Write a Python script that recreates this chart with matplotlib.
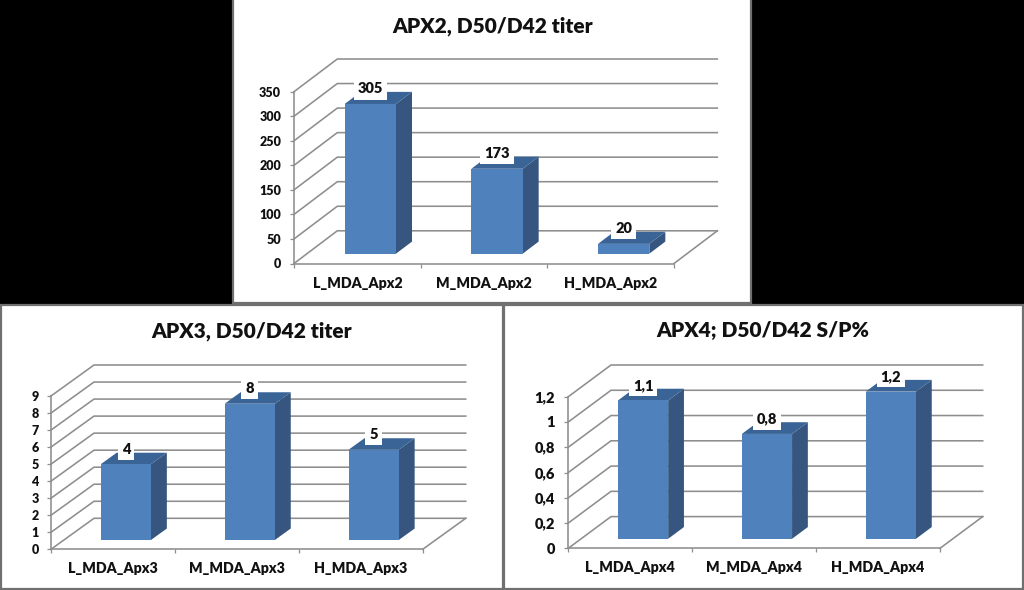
import matplotlib
matplotlib.use("Agg")
import matplotlib.pyplot as plt
from matplotlib.patches import Polygon, Rectangle

plt.rcParams['font.family'] = ['Lato', 'DejaVu Sans']
plt.rcParams['font.weight'] = 'heavy'

FIG_W, FIG_H = 1024, 590

# --- data ---
apx2_categories = ["L_MDA_Apx2", "M_MDA_Apx2", "H_MDA_Apx2"]
apx2_values = [305, 173, 20]
apx2_labels = ["305", "173", "20"]
apx2_ticks = [0, 50, 100, 150, 200, 250, 300, 350]
apx2_ticklabels = ["0", "50", "100", "150", "200", "250", "300", "350"]

apx3_categories = ["L_MDA_Apx3", "M_MDA_Apx3", "H_MDA_Apx3"]
apx3_values = [4.45, 8.0, 5.3]
apx3_labels = ["4", "8", "5"]
apx3_ticks = [0, 1, 2, 3, 4, 5, 6, 7, 8, 9]
apx3_ticklabels = ["0", "1", "2", "3", "4", "5", "6", "7", "8", "9"]

apx4_categories = ["L_MDA_Apx4", "M_MDA_Apx4", "H_MDA_Apx4"]
apx4_values = [1.095, 0.83, 1.165]
apx4_labels = ["1,1", "0,8", "1,2"]
apx4_ticks = [0, 0.2, 0.4, 0.6, 0.8, 1.0, 1.2]
apx4_ticklabels = ["0", "0,2", "0,4", "0,6", "0,8", "1", "1,2"]

FRONT = "#4F81BD"
SIDE = "#36567F"
TOP = "#3A6396"
GRID = "#8E8E8E"


def px_rect(fig, x0, y0, x1, y1, **kw):
    fig.add_artist(Rectangle((x0 / FIG_W, 1 - y1 / FIG_H), (x1 - x0) / FIG_W,
                             (y1 - y0) / FIG_H, transform=fig.transFigure, **kw))


def chart(fig, panel, title, title_xy, box, depth, cats, vals, labels, ticks, ticklabels,
          tick_fs, cat_y_gap, tick_pad_px):
    px_rect(fig, *panel, facecolor="white", edgecolor="#707070", linewidth=1.6, zorder=-5)
    fig.text(title_xy[0] / FIG_W, 1 - title_xy[1] / FIG_H, title, ha="center", va="center",
             fontsize=15, color="#111111")

    x0, y0, x1, y1 = box          # front axis box: left, top, right, bottom (px)
    W, H = x1 - x0, y1 - y0
    ax = fig.add_axes([x0 / FIG_W, 1 - y1 / FIG_H, W / FIG_W, H / FIG_H])
    ax.patch.set_visible(False)
    ymax = ticks[-1]
    n = len(cats)
    ax.set_xlim(0, n)
    ax.set_ylim(0, ymax)

    dx_unit = depth[0] / (W / n)
    dy_unit = depth[1] / (H / ymax)

    def P(x, v, d):
        return (x + d * dx_unit, v + d * dy_unit)

    # walls and floor
    for t in ticks:
        a, b, c = P(0, t, 0), P(0, t, 1), P(n, t, 1)
        ax.plot([a[0], b[0], c[0]], [a[1], b[1], c[1]], color=GRID, lw=1.15,
                clip_on=False, zorder=1, solid_joinstyle="miter")
    a, b = P(n, 0, 0), P(n, 0, 1)
    ax.plot([a[0], b[0]], [a[1], b[1]], color=GRID, lw=1.15, clip_on=False, zorder=1)

    # 3-D columns
    bw, d0, d1 = 0.405, 0.30, 0.67
    for i, (v, lab) in enumerate(zip(vals, labels)):
        l, r = i + 0.5 - bw / 2, i + 0.5 + bw / 2
        ax.add_patch(Polygon([P(r, 0, d0), P(r, 0, d1), P(r, v, d1), P(r, v, d0)],
                             closed=True, fc=SIDE, ec="none", clip_on=False, zorder=3))
        ax.add_patch(Polygon([P(l, v, d0), P(r, v, d0), P(r, v, d1), P(l, v, d1)],
                             closed=True, fc=TOP, ec="none", clip_on=False, zorder=3))
        ax.add_patch(Polygon([P(l, 0, d0), P(r, 0, d0), P(r, v, d0), P(l, v, d0)],
                             closed=True, fc=FRONT, ec="none", clip_on=False, zorder=4))
        ax.annotate(lab, xy=P(i + 0.5, v, d0), xytext=(0, 15 * 0.72),
                    textcoords="offset points", ha="center", va="center",
                    fontsize=10.5, color="#111111", zorder=6, annotation_clip=False,
                    bbox=dict(boxstyle="square,pad=0.28", fc="white", ec="none"))

    # axes
    for s in ("top", "right"):
        ax.spines[s].set_visible(False)
    for s in ("left", "bottom"):
        ax.spines[s].set_color(GRID)
        ax.spines[s].set_linewidth(1.15)
        ax.spines[s].set_zorder(2)
    ax.set_yticks(ticks)
    ax.set_yticklabels(ticklabels, fontsize=tick_fs, color="#111111")
    ax.set_xticks(range(n + 1))
    ax.set_xticklabels([])
    ax.set_xticks([i + 0.5 for i in range(n)], minor=True)
    ax.set_xticklabels(cats, minor=True, fontsize=10.3, color="#111111")
    ax.tick_params(axis="y", length=3.2, width=0.9, color=GRID, pad=tick_pad_px * 0.72)
    ax.tick_params(axis="x", which="major", length=3.2, width=0.9, color=GRID)
    ax.tick_params(axis="x", which="minor", length=0, pad=cat_y_gap * 0.72)
    return ax


fig = plt.figure(figsize=(FIG_W / 100, FIG_H / 100), dpi=100, facecolor="black")

chart(fig, (233, -2, 751, 303), "APX2, D50/D42 titer", (492.7, 26),
      (294, 91.7, 674, 263.5), (43.3, 32.7),
      apx2_categories, apx2_values, apx2_labels, apx2_ticks, apx2_ticklabels, 9, 13, 8.5)

chart(fig, (1, 305, 503, 589), "APX3, D50/D42 titer", (251.7, 331),
      (51, 396, 422.7, 549.3), (43, 31),
      apx3_categories, apx3_values, apx3_labels, apx3_ticks, apx3_ticklabels, 9, 13, 8)

chart(fig, (504, 305, 1023, 589), "APX4; D50/D42 S/P%", (762.7, 331),
      (568.3, 396.7, 940, 548.3), (42.7, 31.7),
      apx4_categories, apx4_values, apx4_labels, apx4_ticks, apx4_ticklabels, 10.5, 13, 9)

fig.savefig("out.png", dpi=100, facecolor="black")
